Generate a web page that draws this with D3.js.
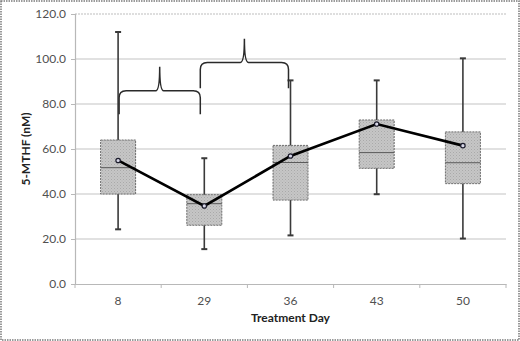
<!DOCTYPE html>
<html>
<head>
<meta charset="utf-8">
<script src="https://cdn.jsdelivr.net/npm/d3@7"></script>
<style>
    body { margin: 0; background: #fff; }
    svg { display: block; }
    text { font-family: Lato, "Open Sans", sans-serif; }
</style>
</head>
<body>
<svg id="chart" width="520" height="341"></svg>
<script>
    'use strict';

    // values
    var days = ['8', '29', '36', '43', '50'];
    var whiskerLow = [24.3, 15.5, 21.6, 39.9, 20.2];
    var quart1 = [40.0, 26.1, 37.3, 51.4, 44.6];
    var medians = [51.7, 35.7, 54.0, 58.4, 53.9];
    var quart3 = [64.0, 39.7, 61.6, 72.9, 67.6];
    var whiskerHigh = [112.0, 55.9, 90.5, 90.5, 100.3];
    var means = [54.9, 34.7, 56.9, 71.1, 61.5];
    var yTicks = [0, 20, 40, 60, 80, 100, 120];

    // significance braces: [from day, to day, level, tip, end]
    var braces = [
        { from: '8', to: '29', level: 85.9, tip: 96.6, end: 75.5, dx0: 1, dx1: -4 },
        { from: '29', to: '36', level: 98.5, tip: 109.0, end: 87.0, dx0: -4, dx1: -2 }
    ];

    var svg = d3.select('#chart');
    var margin = { left: 75, right: 14, top: 14, bottom: 57 };
    var width = 520 - margin.left - margin.right,
        height = 341 - margin.top - margin.bottom;

    // dotted outer frame
    svg.append('rect')
        .attr('x', 1).attr('y', 1)
        .attr('width', 518).attr('height', 339)
        .attr('fill', 'none')
        .attr('stroke', '#7a7a7a')
        .attr('stroke-width', 1.5)
        .attr('stroke-dasharray', '1.5,1');

    var defs = svg.append('defs');
    var pat = defs.append('pattern')
        .attr('id', 'stipple')
        .attr('width', 3).attr('height', 3)
        .attr('patternUnits', 'userSpaceOnUse');
    pat.append('rect').attr('width', 3).attr('height', 3).attr('fill', '#c6c6c6');
    pat.append('rect').attr('x', 0).attr('y', 0).attr('width', 1).attr('height', 1).attr('fill', '#a9a9a9');
    pat.append('rect').attr('x', 1.5).attr('y', 1.5).attr('width', 1).attr('height', 1).attr('fill', '#b4b4b4');

    var g = svg.append('g')
        .attr('transform', 'translate(' + margin.left + ',' + margin.top + ')');

    var x = d3.scaleBand().domain(days).range([0, width]);
    var y = d3.scaleLinear().domain([0, 120]).range([height, 0]);

    // gridlines
    g.selectAll('.grid')
        .data(yTicks.filter(function (d) { return d > 0; }))
        .enter().append('line')
        .attr('class', 'grid')
        .attr('x1', 0).attr('x2', width)
        .attr('y1', function (d) { return y(d); })
        .attr('y2', function (d) { return y(d); })
        .attr('stroke', function (d) { return d == 120 ? '#bdbdbd' : '#c4c4c4'; })
        .attr('stroke-dasharray', function (d) { return d == 120 ? '2,1' : null; })
        .attr('stroke-width', 1.2);

    // axes
    var yAxis = g.append('g')
        .call(d3.axisLeft(y).tickValues(yTicks).tickSize(4).tickFormat(d3.format('.1f')));
    var xAxis = g.append('g')
        .attr('transform', 'translate(0,' + height + ')')
        .call(d3.axisBottom(x).tickSize(0).tickPadding(12));
    xAxis.selectAll('.tick-mark')
        .data(d3.range(days.length + 1))
        .enter().append('line')
        .attr('x1', function (d) { return d * x.step(); })
        .attr('x2', function (d) { return d * x.step(); })
        .attr('y1', 0).attr('y2', 4)
        .attr('stroke', '#b8b8b8');
    [yAxis, xAxis].forEach(function (a) {
        a.select('.domain').attr('stroke', '#b8b8b8').attr('stroke-width', 1.2);
        a.selectAll('.tick line').attr('stroke', '#b8b8b8');
        a.selectAll('.tick text')
            .style('font-size', '12px')
            .attr('fill', '#505050');
    });
    yAxis.selectAll('.tick text').attr('x', -9);

    var cx = function (i) { return x(days[i]) + x.bandwidth() / 2; };
    var bw = 35;

    var box = g.selectAll('.box')
        .data(days)
        .enter().append('g')
        .attr('class', 'box');

    // whiskers
    box.append('line')
        .attr('x1', function (d, i) { return cx(i); })
        .attr('x2', function (d, i) { return cx(i); })
        .attr('y1', function (d, i) { return y(whiskerLow[i]); })
        .attr('y2', function (d, i) { return y(whiskerHigh[i]); })
        .attr('stroke', '#3a3a3a')
        .attr('stroke-width', 1.6);
    [whiskerLow, whiskerHigh].forEach(function (arr) {
        box.append('line')
            .attr('x1', function (d, i) { return cx(i) - 3; })
            .attr('x2', function (d, i) { return cx(i) + 3; })
            .attr('y1', function (d, i) { return y(arr[i]); })
            .attr('y2', function (d, i) { return y(arr[i]); })
            .attr('stroke', '#3a3a3a')
            .attr('stroke-width', 2);
    });

    box.append('rect')
        .attr('x', function (d, i) { return cx(i) - bw / 2; })
        .attr('width', bw)
        .attr('y', function (d, i) { return y(quart3[i]); })
        .attr('height', function (d, i) { return y(quart1[i]) - y(quart3[i]); })
        .attr('fill', 'url(#stipple)')
        .attr('stroke', '#6e6e6e')
        .attr('stroke-width', 1)
        .attr('stroke-dasharray', '2,1');

    box.append('line')
        .attr('x1', function (d, i) { return cx(i) - bw / 2; })
        .attr('x2', function (d, i) { return cx(i) + bw / 2; })
        .attr('y1', function (d, i) { return y(medians[i]); })
        .attr('y2', function (d, i) { return y(medians[i]); })
        .attr('stroke', '#5a5a5a')
        .attr('stroke-width', 1);

    // mean line
    var line = d3.line()
        .x(function (d, i) { return cx(i); })
        .y(function (d) { return y(d); });
    g.append('path')
        .datum(means)
        .attr('d', line)
        .attr('fill', 'none')
        .attr('stroke', '#000')
        .attr('stroke-width', 2.6);
    g.selectAll('.mean')
        .data(means)
        .enter().append('circle')
        .attr('class', 'mean')
        .attr('cx', function (d, i) { return cx(i); })
        .attr('cy', function (d) { return y(d); })
        .attr('r', 2.2)
        .attr('fill', '#d8d8e8')
        .attr('stroke', '#1a1a2a')
        .attr('stroke-width', 1.2);

    // curly braces
    function bracePath(b) {
        var x0 = x(b.from) + x.bandwidth() / 2 + b.dx0,
            x1 = x(b.to) + x.bandwidth() / 2 + b.dx1,
            xm = (x0 + x1) / 2,
            yl = y(b.level), yt = y(b.tip), ye = y(b.end), r = 7;
        return 'M' + x0 + ',' + ye +
            'L' + x0 + ',' + (yl + r) +
            'Q' + x0 + ',' + yl + ' ' + (x0 + r) + ',' + yl +
            'L' + (xm - 4) + ',' + yl +
            'Q' + xm + ',' + yl + ' ' + xm + ',' + yt +
            'Q' + xm + ',' + yl + ' ' + (xm + 4) + ',' + yl +
            'L' + (x1 - r) + ',' + yl +
            'Q' + x1 + ',' + yl + ' ' + x1 + ',' + (yl + r) +
            'L' + x1 + ',' + ye;
    }
    g.selectAll('.brace')
        .data(braces)
        .enter().append('path')
        .attr('class', 'brace')
        .attr('d', bracePath)
        .attr('fill', 'none')
        .attr('stroke', '#2a2a2a')
        .attr('stroke-width', 1.5);

    // axis titles
    svg.append('text')
        .attr('transform', 'translate(30,' + (margin.top + height / 2) + ') rotate(-90)')
        .attr('text-anchor', 'middle')
        .style('font-size', '12px')
        .style('font-weight', 'bold')
        .attr('fill', '#222')
        .text('5-MTHF (nM)');
    svg.append('text')
        .attr('x', margin.left + width / 2)
        .attr('y', 322)
        .attr('text-anchor', 'middle')
        .style('font-size', '12px')
        .style('font-weight', 'bold')
        .attr('fill', '#222')
        .text('Treatment Day');
</script>
</body>
</html>
